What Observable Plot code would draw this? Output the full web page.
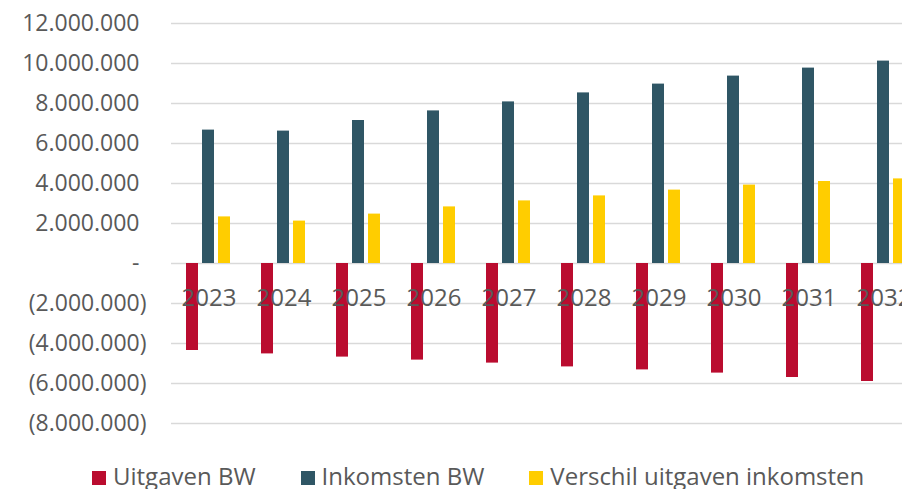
<!DOCTYPE html>
<html>
<head>
<meta charset="utf-8">
<script src="https://cdn.jsdelivr.net/npm/d3@7"></script>
<script src="https://cdn.jsdelivr.net/npm/@observablehq/plot@0.6"></script>
<style>
  html, body { margin: 0; padding: 0; overflow: hidden; background: #fff; }
  body { width: 902px; height: 489px; font-family: "Open Sans", sans-serif; position: relative; }
  #chart svg { max-width: none !important; display: block; }
  #legend { position: absolute; left: 0; top: 460px; display: flex; align-items: baseline; padding-left: 92px; line-height: 32px; font-size: 24px; color: #595959; white-space: nowrap; }
  #legend .item { display: flex; align-items: baseline; margin-right: 45px; }
  #legend .sw { display: inline-block; width: 14px; height: 14px; margin-right: 7px; }
</style>
</head>
<body>
<div id="chart"></div>
<div id="legend"></div>
<script>
const years = ["2023", "2024", "2025", "2026", "2027", "2028", "2029", "2030", "2031", "2032"];
const seriesNames = ["Uitgaven BW", "Inkomsten BW", "Verschil uitgaven inkomsten"];
const seriesColors = ["#BA0C2F", "#2F5665", "#FFCD00"];
const uitgaven = [-4350000, -4520000, -4680000, -4830000, -4980000, -5170000, -5320000, -5480000, -5700000, -5900000];
const inkomsten = [6670000, 6620000, 7150000, 7630000, 8080000, 8530000, 8970000, 9370000, 9770000, 10120000];
const verschil = [2330000, 2120000, 2470000, 2830000, 3130000, 3380000, 3670000, 3920000, 4100000, 4230000];
const yTicks = [-8000000, -6000000, -4000000, -2000000, 0, 2000000, 4000000, 6000000, 8000000, 10000000, 12000000];

const seriesValues = [uitgaven, inkomsten, verschil];
const rows = [];
years.forEach((year, i) => {
  seriesNames.forEach((s, j) => rows.push({year, series: s, value: seriesValues[j][i]}));
});

const nl = d3.formatLocale({decimal: ",", thousands: ".", grouping: [3], currency: ["", ""]});
const fmt = nl.format(",.0f");
const tickFmt = d => d === 0 ? "-" : d < 0 ? "(" + fmt(-d) + ")" : fmt(d);

const textColor = "#595959";
const font = "Open Sans, sans-serif";

const chart = Plot.plot({
  width: 922,
  height: 440,
  marginLeft: 169,
  marginRight: 0,
  marginTop: 23,
  marginBottom: 17,
  style: {fontFamily: font, background: "transparent", overflow: "visible", maxWidth: "none"},
  fx: {domain: years, padding: 0, axis: null},
  x: {domain: seriesNames, paddingInner: 0.235, paddingOuter: 0.83, axis: null},
  y: {domain: [-8000000, 12000000], axis: null},
  color: {domain: seriesNames, range: seriesColors},
  marks: [
    Plot.ruleY(yTicks, {stroke: "#d9d9d9", strokeWidth: 1.4}),
    Plot.barY(rows, {fx: "year", x: "series", y: "value", fill: "series"}),
    Plot.axisY(yTicks.filter(d => d < 0), {
      tickSize: 0, tickPadding: 25, tickFormat: tickFmt,
      fontSize: 23, fill: textColor, label: null
    }),
    Plot.axisY(yTicks.filter(d => d >= 0), {
      tickSize: 0, tickPadding: 32, tickFormat: tickFmt,
      fontSize: 23, fill: textColor, label: null
    }),
    Plot.text(years, {
      fx: d => d, y: () => 0, text: d => d, dy: 35,
      fontSize: 24, fill: textColor
    })
  ]
});
document.getElementById("chart").appendChild(chart);

const legend = document.getElementById("legend");
seriesNames.forEach((s, i) => {
  const item = document.createElement("div");
  item.className = "item";
  const sw = document.createElement("span");
  sw.className = "sw";
  sw.style.background = seriesColors[i];
  const label = document.createElement("span");
  label.textContent = s;
  item.appendChild(sw);
  item.appendChild(label);
  legend.appendChild(item);
});
</script>
</body>
</html>
